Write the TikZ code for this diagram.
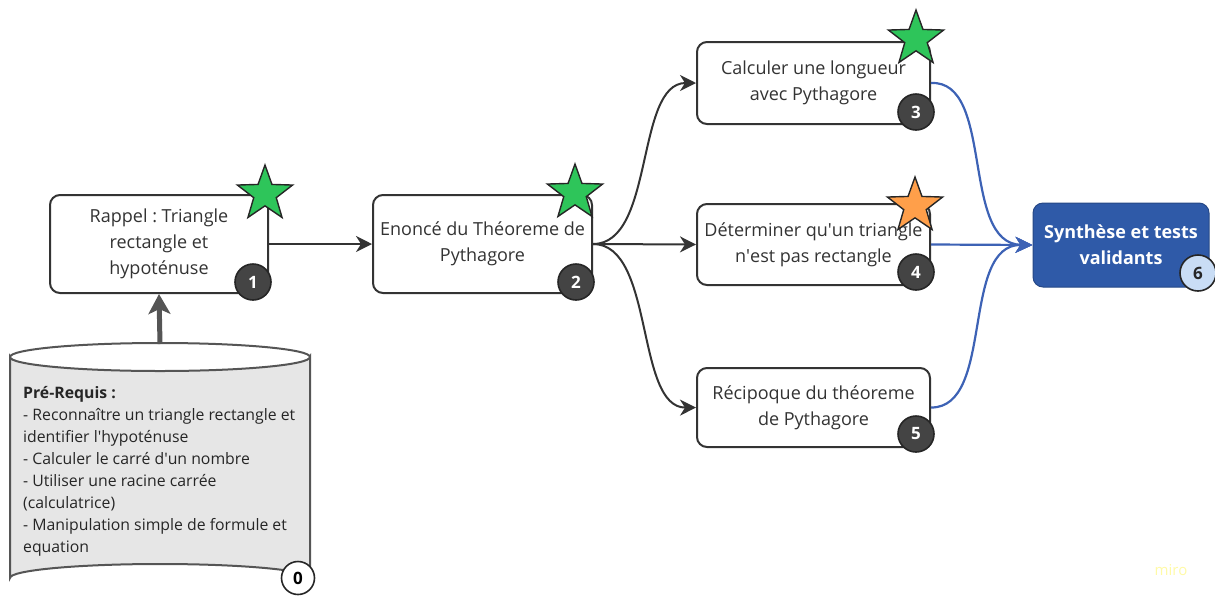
\documentclass[tikz,border=0pt]{standalone}
\usepackage{fontspec}
\setmainfont{Open Sans}
\frenchspacing
\usetikzlibrary{shapes.geometric,arrows.meta}
\definecolor{boxline}{HTML}{333333}
\definecolor{badgefill}{HTML}{444444}
\definecolor{stargreen}{HTML}{2EC55A}
\definecolor{starorange}{HTML}{FF9F4A}
\definecolor{synblue}{HTML}{2F5AA8}
\definecolor{edgeblue}{HTML}{3D62B5}
\definecolor{lightbadge}{HTML}{C9DDF5}
\definecolor{cylfill}{HTML}{E6E6E6}
\definecolor{cylline}{HTML}{555555}
\newcommand{\apos}{\XeTeXglyph\XeTeXcharglyph"0027\relax}
\tikzset{
  stepbox/.style={draw=boxline, line width=2pt, rounded corners=10pt, fill=white, align=center,
    font=\fontsize{18}{26}\selectfont, text=black!80, inner sep=0pt},
  badge/.style={circle, draw=black!85, line width=1.6pt, fill=badgefill, text=white,
    font=\fontsize{17}{17}\selectfont\bfseries, minimum size=36pt, inner sep=0pt},
  starmark/.style={star, star points=5, star point ratio=2.45, minimum size=58pt, inner sep=0pt,
    draw=black!85, line width=1.4pt},
  darkedge/.style={draw=boxline, line width=2pt, -{Stealth[length=16pt,width=16pt,inset=5pt]}},
  blueedge/.style={draw=edgeblue, line width=2.2pt, -{Stealth[length=17pt,width=16pt,inset=5pt]}},
}
\begin{document}
\begin{tikzpicture}[x=1pt,y=-1pt]
\useasboundingbox (0,0) rectangle (1215,598);
% nodes
\node[stepbox, minimum width=218pt, minimum height=98pt] (n1) at (159,244) {Rappel : Triangle\\rectangle et\\hypoténuse};
\node[stepbox, minimum width=219pt, minimum height=98pt] (n2) at (482.5,244) {Enoncé du Théoreme de\\Pythagore};
\node[stepbox, minimum width=233pt, minimum height=82pt] (n3) at (813.5,83) {Calculer une longueur\\avec Pythagore};
\node[stepbox, minimum width=233pt, minimum height=81pt] (n4) at (813.5,244.5) {Déterminer qu\apos un triangle\\n\apos est pas rectangle};
\node[stepbox, minimum width=233pt, minimum height=79pt] (n5) at (813.5,407.5) {Récipoque du théoreme\\de Pythagore};
\node[draw=synblue!80!black, line width=1pt, fill=synblue, rounded corners=10pt, align=center, text=white,
  font=\fontsize{18}{26}\selectfont\bfseries, minimum width=176pt, minimum height=84pt, inner sep=0pt]
  (n6) at (1121,245) {Synthèse et tests\\validants};
% cylinder
\coordinate (cyltop) at (160,344);
\path[fill=cylfill, draw=cylline, line width=2pt]
  (10,357) -- (10,578) arc[start angle=180, end angle=360, x radius=150, y radius=14]
  -- (310,357) arc[start angle=0, end angle=180, x radius=150, y radius=14] -- cycle;
\draw[cylline, line width=2pt] (10,357) arc[start angle=180, end angle=360, x radius=150, y radius=14];
\node[anchor=north west, align=left, font=\fontsize{15.8}{22}\selectfont, text=black!85, inner sep=0pt] (req) at (23,386)
  {\textbf{Pré-Requis :}\\- Reconnaître un triangle rectangle et\\identifier l\apos hypoténuse\\- Calculer le carré d\apos un nombre\\- Utiliser une racine carrée\\(calculatrice)\\- Manipulation simple de formule et\\equation};
% badges
\node[badge] (b1) at (253,282) {1};
\node[badge] (b2) at (576,282) {2};
\node[badge] (b3) at (916,112) {3};
\node[badge] (b4) at (916,272) {4};
\node[badge] (b5) at (916,434) {5};
\node[badge, fill=lightbadge, text=black!85] (b6) at (1198,273) {6};
\node[badge, fill=white, text=black, minimum size=33pt] (b0) at (298,578) {0};
% stars
\node[starmark, fill=stargreen] (s1) at (265,194) {};
\node[starmark, fill=stargreen] (s2) at (575,193) {};
\node[starmark, fill=stargreen] (s3) at (916,39) {};
\node[starmark, fill=starorange] (s4) at (915,206) {};
% connectors
\draw[cylline, line width=5pt, -{Stealth[length=20pt,width=22pt,inset=5pt]}] (cyltop) -- (n1.south);
\draw[darkedge] (n1.east) -- (n2.west);
\draw[darkedge] (n2.east) .. controls (655,244) and (635,83) .. (n3.west);
\draw[darkedge] (n2.east) -- (n4.west);
\draw[darkedge] (n2.east) .. controls (655,244) and (635,408) .. (n5.west);
\draw[blueedge] (n3.east) .. controls (995,80) and (960,244) .. (n6.west);
\draw[blueedge] (n4.east) -- (n6.west);
\draw[blueedge] (n5.east) .. controls (995,408) and (960,244) .. (n6.west);
% watermark
\node[text=yellow!35!white, font=\fontsize{15}{15}\selectfont, inner sep=0pt] (miro) at (1171,570) {miro};
\end{tikzpicture}
\end{document}
